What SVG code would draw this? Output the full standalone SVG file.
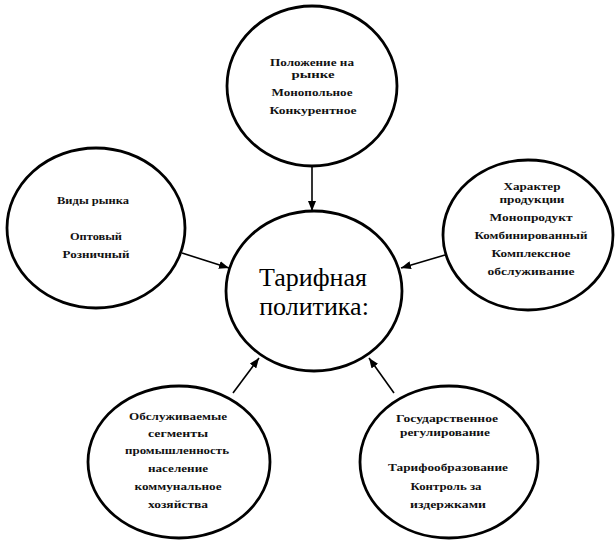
<svg xmlns="http://www.w3.org/2000/svg" width="615" height="540" viewBox="0 0 615 540">
  <style>
    .c { fill: #fff; stroke: #000; stroke-width: 2.8; }
    .t { font-family: "Liberation Serif", "DejaVu Serif", serif; font-size: 10.5px; font-weight: bold; fill: #111; text-anchor: middle; }
    .big { font-family: "Liberation Serif", "DejaVu Serif", serif; font-size: 26px; fill: #000; text-anchor: middle; }
    .a { stroke: #000; stroke-width: 1.6; fill: none; marker-end: url(#ah); }
  </style>
  <defs>
    <marker id="ah" markerUnits="userSpaceOnUse" markerWidth="10" markerHeight="8" refX="10" refY="4" orient="auto">
      <path d="M0,0 L10,4 L0,8 Z" fill="#000"/>
    </marker>
  </defs>
  <rect width="615" height="540" fill="#fff"/>

  <g id="connectors">
    <line class="a" x1="312" y1="167" x2="312" y2="211"/>
    <line class="a" x1="182" y1="253" x2="229" y2="268"/>
    <line class="a" x1="445" y1="255" x2="401" y2="268"/>
    <line class="a" x1="233" y1="393" x2="259" y2="358"/>
    <line class="a" x1="394" y1="393" x2="369" y2="358"/>
  </g>

  <g id="node-top">
    <ellipse class="c" cx="312" cy="86" rx="85" ry="80"/>
    <text class="t" x="312" y="66" textLength="84" lengthAdjust="spacingAndGlyphs">Положение на</text>
    <text class="t" x="313" y="78" textLength="43" lengthAdjust="spacingAndGlyphs">рынке</text>
    <text class="t" x="312" y="96" textLength="81" lengthAdjust="spacingAndGlyphs">Монопольное</text>
    <text class="t" x="313" y="114" textLength="87" lengthAdjust="spacingAndGlyphs">Конкурентное</text>
  </g>

  <g id="node-left">
    <ellipse class="c" cx="96" cy="228" rx="89" ry="80"/>
    <text class="t" x="93" y="204" textLength="72" lengthAdjust="spacingAndGlyphs">Виды рынка</text>
    <text class="t" x="96" y="240" textLength="52" lengthAdjust="spacingAndGlyphs">Оптовый</text>
    <text class="t" x="96" y="258" textLength="67" lengthAdjust="spacingAndGlyphs">Розничный</text>
  </g>

  <g id="node-right">
    <ellipse class="c" cx="528" cy="235" rx="85" ry="75"/>
    <text class="t" x="532" y="190" textLength="57" lengthAdjust="spacingAndGlyphs">Характер</text>
    <text class="t" x="532" y="203" textLength="65" lengthAdjust="spacingAndGlyphs">продукции</text>
    <text class="t" x="531" y="221" textLength="83" lengthAdjust="spacingAndGlyphs">Монопродукт</text>
    <text class="t" x="531" y="239" textLength="113" lengthAdjust="spacingAndGlyphs">Комбинированный</text>
    <text class="t" x="531" y="257" textLength="79" lengthAdjust="spacingAndGlyphs">Комплексное</text>
    <text class="t" x="531" y="275" textLength="87" lengthAdjust="spacingAndGlyphs">обслуживание</text>
  </g>

  <g id="node-center">
    <ellipse class="c" cx="314" cy="291" rx="88" ry="80"/>
    <text class="big" x="313" y="286">Тарифная</text>
    <text class="big" x="314" y="315">политика:</text>
  </g>

  <g id="node-bottom-left">
    <ellipse class="c" cx="179" cy="462" rx="91" ry="76"/>
    <text class="t" x="178" y="420" textLength="98" lengthAdjust="spacingAndGlyphs">Обслуживаемые</text>
    <text class="t" x="178" y="437" textLength="60" lengthAdjust="spacingAndGlyphs">сегменты</text>
    <text class="t" x="177" y="454" textLength="104" lengthAdjust="spacingAndGlyphs">промышленность</text>
    <text class="t" x="178" y="472" textLength="60" lengthAdjust="spacingAndGlyphs">население</text>
    <text class="t" x="178" y="490" textLength="87" lengthAdjust="spacingAndGlyphs">коммунальное</text>
    <text class="t" x="178" y="508" textLength="60" lengthAdjust="spacingAndGlyphs">хозяйства</text>
  </g>

  <g id="node-bottom-right">
    <ellipse class="c" cx="449" cy="462" rx="89" ry="76"/>
    <text class="t" x="447" y="422" textLength="102" lengthAdjust="spacingAndGlyphs">Государственное</text>
    <text class="t" x="445" y="436" textLength="90" lengthAdjust="spacingAndGlyphs">регулирование</text>
    <text class="t" x="448" y="471" textLength="120" lengthAdjust="spacingAndGlyphs">Тарифообразование</text>
    <text class="t" x="446" y="490" textLength="71" lengthAdjust="spacingAndGlyphs">Контроль за</text>
    <text class="t" x="448" y="508" textLength="76" lengthAdjust="spacingAndGlyphs">издержками</text>
  </g>
</svg>
